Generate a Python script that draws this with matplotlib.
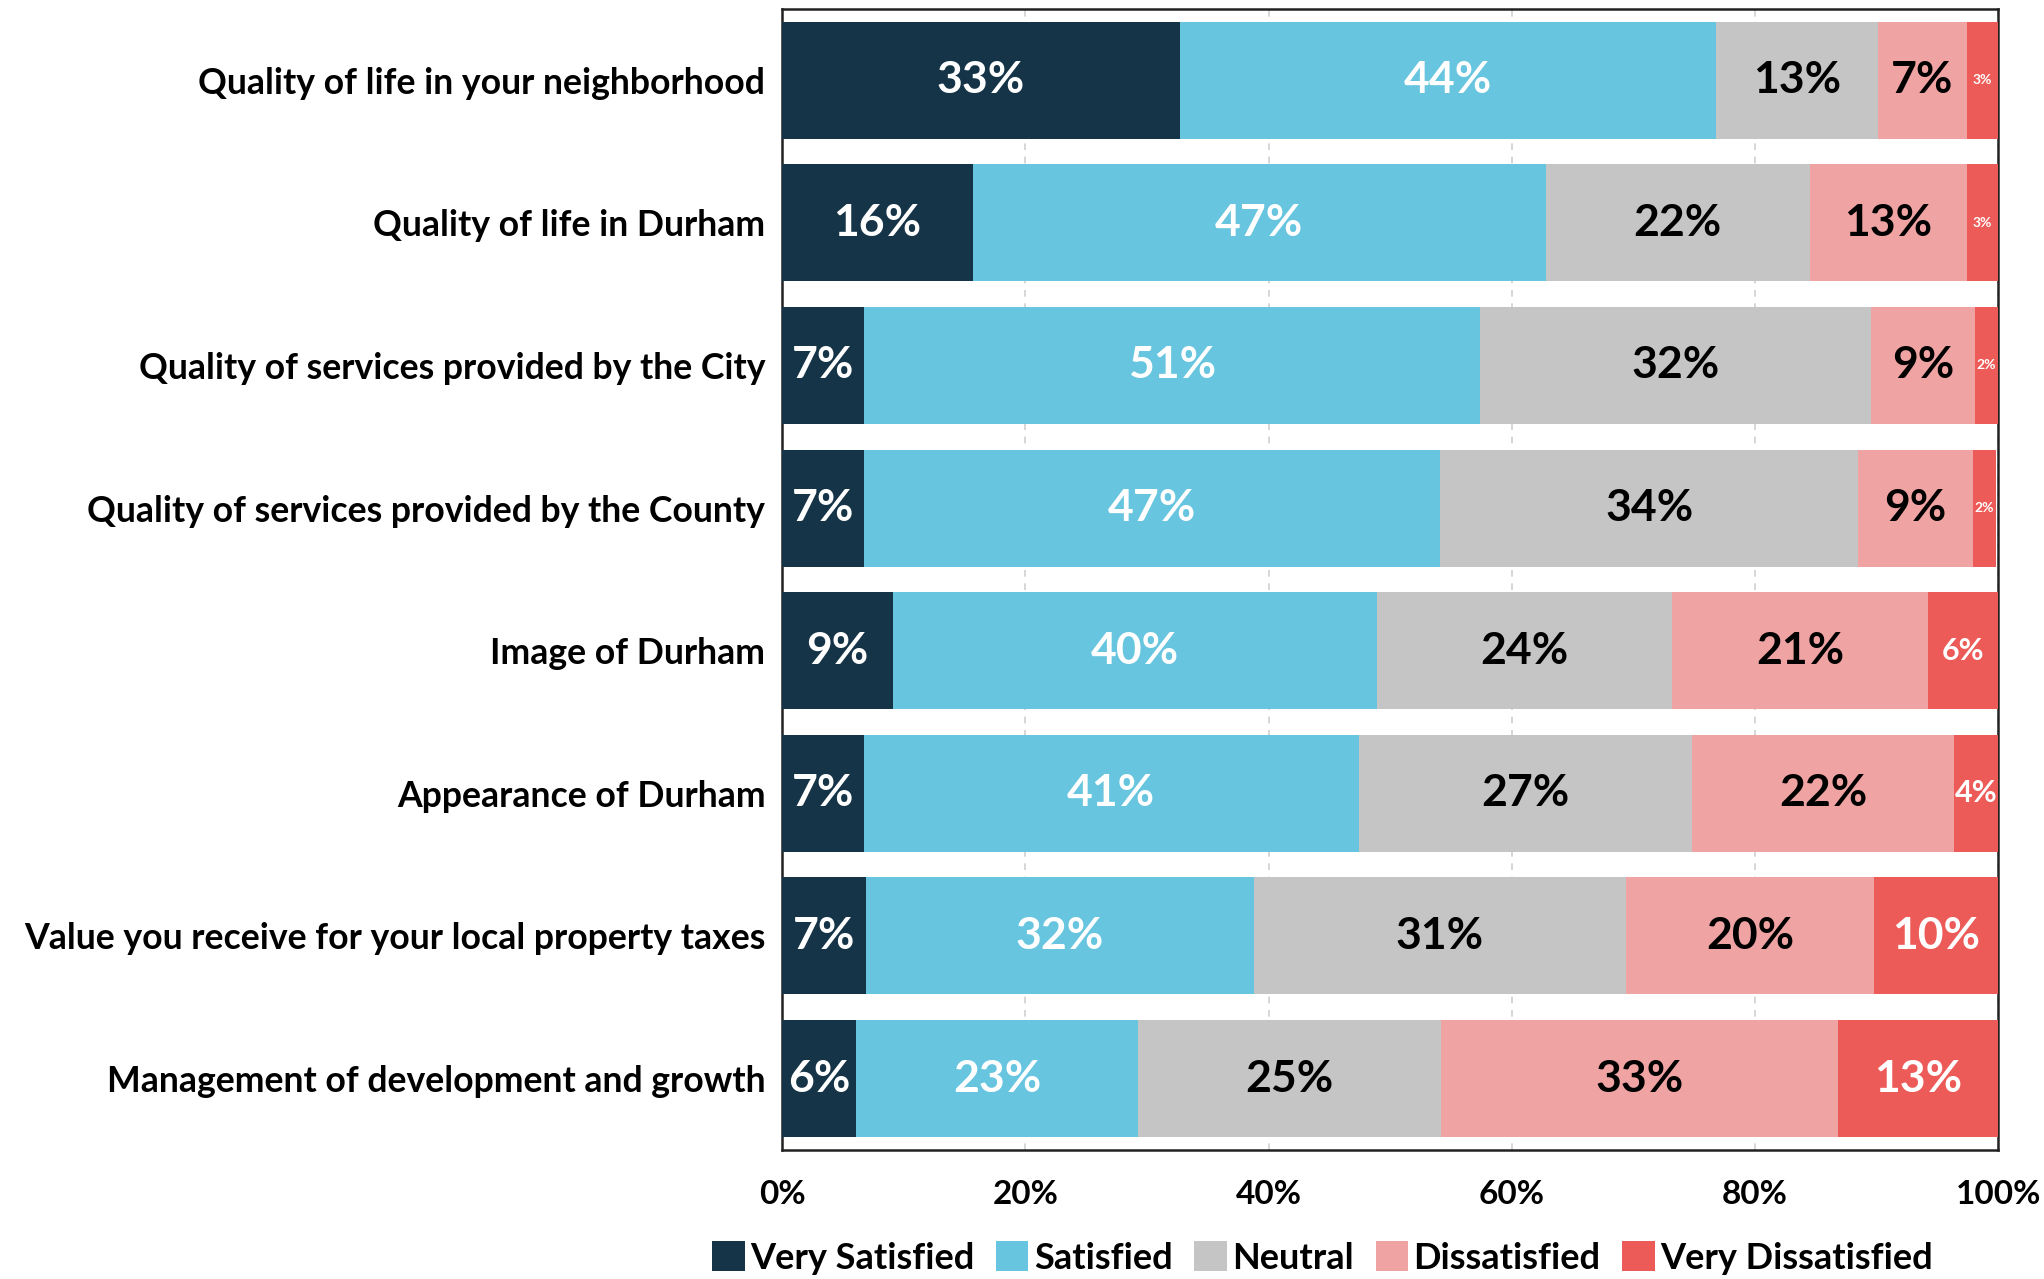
import numpy as np
import matplotlib.pyplot as plt

plt.rcParams['font.family'] = ['Lato', 'DejaVu Sans']

# survey items, top to bottom
categories = [
    'Quality of life in your neighborhood',
    'Quality of life in Durham',
    'Quality of services provided by the City',
    'Quality of services provided by the County',
    'Image of Durham',
    'Appearance of Durham',
    'Value you receive for your local property taxes',
    'Management of development and growth',
]

series_names = ['Very Satisfied', 'Satisfied', 'Neutral', 'Dissatisfied', 'Very Dissatisfied']

very_satisfied    = [32.7, 15.7, 6.7, 6.7, 9.1, 6.7, 6.9, 6.1]
satisfied         = [44.1, 47.1, 50.7, 47.4, 39.8, 40.7, 31.9, 23.2]
neutral           = [13.3, 21.7, 32.1, 34.4, 24.3, 27.4, 30.6, 24.9]
dissatisfied      = [7.3, 12.9, 8.6, 9.4, 21.0, 21.6, 20.4, 32.6]
very_dissatisfied = [2.6, 2.6, 1.9, 1.9, 5.8, 3.6, 10.2, 13.2]

colors = ['#163447', '#67C5DF', '#C5C5C5', '#F0A3A3', '#EC5B57']
text_colors = ['white', 'white', 'black', 'black', 'white']

data = [very_satisfied, satisfied, neutral, dissatisfied, very_dissatisfied]

fig = plt.figure(figsize=(20.44, 12.79), dpi=100)
ax = fig.add_axes([0.3826, 0.101, 0.595, 0.892])

y = np.arange(len(categories))
left = np.zeros(len(categories))
for i, vals in enumerate(data):
    vals = np.array(vals)
    bars = ax.barh(y, vals, left=left, height=0.82, color=colors[i],
                   label=series_names[i], zorder=3)
    for j, bar in enumerate(bars):
        v = vals[j]
        if v < 3:
            fs = 10
        elif v < 6:
            fs = 22
        else:
            fs = 32
        ax.text(left[j] + v / 2, y[j], f'{v:.0f}%', ha='center', va='center',
                color=text_colors[i], fontsize=fs, fontweight='bold', zorder=4)
    left += vals

ax.set_xlim(0, 100)
ax.set_ylim(len(categories) - 0.5, -0.5)
ax.set_yticks(y)
ax.set_yticklabels(categories, fontsize=25.7, fontweight='bold')
ax.set_xticks([0, 20, 40, 60, 80, 100])
ax.set_xticklabels([f'{t}%' for t in [0, 20, 40, 60, 80, 100]], fontsize=24, fontweight='bold')
ax.tick_params(axis='both', length=0)
ax.tick_params(axis='x', pad=22)
ax.tick_params(axis='y', pad=12)

ax.grid(axis='x', linestyle=(0, (4, 4)), color='#d0d0d0', linewidth=1.2, zorder=0)
for s in ax.spines.values():
    s.set_color('#222222')
    s.set_linewidth(1.8)

fig.legend(loc='lower center', bbox_to_anchor=(0.647, -0.022), ncol=5, frameon=False,
           handlelength=0.9, handleheight=0.9, handletextpad=0.15,
           columnspacing=0.6, prop={'size': 26, 'weight': 'bold'})

fig.savefig('out.png', dpi=100)
